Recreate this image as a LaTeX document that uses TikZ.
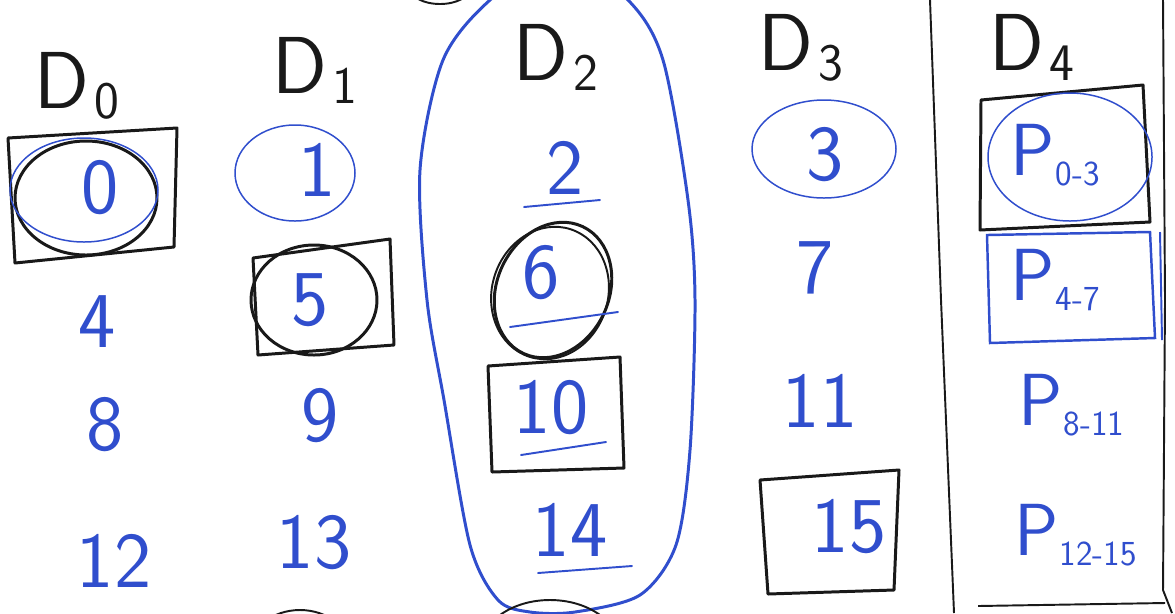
\documentclass[tikz,border=0pt]{standalone}
\usepackage{fontspec}
\usepackage{tikz}
\usepackage{xcolor}
\definecolor{inkblue}{RGB}{48,78,205}
\definecolor{inkblack}{RGB}{25,25,25}
\newcommand{\dsk}[1]{D\kern3pt\raisebox{-6pt}{\fontsize{30}{30}\selectfont #1}}
\newcommand{\pty}[1]{P\kern0.5pt\raisebox{-6pt}{\fontsize{20}{20}\selectfont #1}}

\begin{document}
\begin{tikzpicture}[x=0.02cm,y=-0.02cm,
  hdr/.style={inkblack,anchor=base west,inner sep=0pt,font=\sffamily\fontsize{46}{46}\selectfont},
  num/.style={inkblue,inner sep=0pt,font=\sffamily\fontsize{45}{45}\selectfont},
  pnum/.style={inkblue,anchor=base west,inner sep=0pt,font=\sffamily\fontsize{42}{42}\selectfont},
  bmark/.style={inkblack,line width=1.7pt,line join=round},
  bline/.style={inkblack,line width=1.1pt},
  bring/.style={inkblue,line width=0.85pt},
  umark/.style={inkblue,line width=1.1pt,line cap=round}]
  \useasboundingbox (0,0) rectangle (1175,613);
  \clip (0,0) rectangle (1175,613);
  \node[hdr] (d0) at (34,108) {\dsk{0}};
  \node[hdr] (d1) at (272,93) {\dsk{1}};
  \node[hdr] (d2) at (513,80) {\dsk{2}};
  \node[hdr] (d3) at (758,70) {\dsk{3}};
  \node[hdr] (d4) at (989,70) {\dsk{4}};
  \foreach \n/\x/\y in {0/100/188,1/317/170,2/565/168,3/825/155,4/97/322,5/310/300,6/541/273,7/815/268,
    8/105/425,9/320/416,10/551/408,11/820/401,12/114/561,13/314/543,14/570/530,15/849/527}{ \node[num] (b\n) at (\x,\y) {\n}; }
  \node[pnum] (p0) at (1010,175) {\pty{0-3}};
  \node[pnum] (p1) at (1010,300) {\pty{4-7}};
  \node[pnum] (p2) at (1018,425) {\pty{8-11}};
  \node[pnum] (p3) at (1014,555) {\pty{12-15}};
  \draw[bmark] (8,138) -- (177,128) -- (174,247) -- (15,263) -- cycle;
  \draw[bmark] (86,198) ellipse (71 and 57);
  \draw[bring] (84,190) ellipse (74 and 52);
  \draw[bring] (295,173) ellipse (60 and 48);
  \draw[bmark] (253,258) -- (390,239) -- (394,345) -- (258,355) -- cycle;
  \draw[bmark] (314,300) ellipse (63 and 55);
  \draw[bmark,rotate around={-25:(553,290)}] (553,290) ellipse (56 and 70);
  \draw[bline,rotate around={-18:(550,293)}] (550,293) ellipse (58 and 67);
  \draw[bmark] (488,366) -- (620,357) -- (624,468) -- (492,472) -- cycle;
  \draw[bring] (824,149) ellipse (72 and 49);
  \draw[bmark] (760,480) -- (899,470) -- (894,590) -- (768,594) -- cycle;
  \draw[bmark] (981,100) -- (1143,85) -- (1150,222) -- (980,230) -- cycle;
  \draw[bring] (1070,157) ellipse (82 and 64);
  \draw[inkblue,line width=1.4pt] (987,235) -- (1150,232) -- (1155,338) -- (990,343) -- cycle;
  \draw[inkblue,line width=1.1pt] (1160,232) -- (1162,340);
  \foreach \a/\b/\c/\d in {524/207/600/200,510/327/618/312,521/455/606/442,538/573/632/566}{ \draw[umark] (\a,\b) -- (\c,\d); }
  \draw[inkblue,line width=1.7pt] plot[smooth cycle] coordinates {(560,-45) (628,0) (663,60) (688,200) (695,300)
    (690,450) (676,545) (640,595) (575,612) (530,612) (498,600) (470,545) (444,400) (427,300) (420,170) (443,60) (490,0)};
  \draw[bline] (930,0) -- (941,300) -- (954,613);
  \draw[bline] (1163,0) -- (1165,300) -- (1163,590) -- (1172,613);
  \draw[bline] (978,606) -- (1165,603);
  \draw[bline] (550,650) ellipse (70 and 50);
  \draw[bline] (300,650) ellipse (50 and 40);
  \draw[bline] (440,-12) ellipse (30 and 16);
\end{tikzpicture}
\end{document}
